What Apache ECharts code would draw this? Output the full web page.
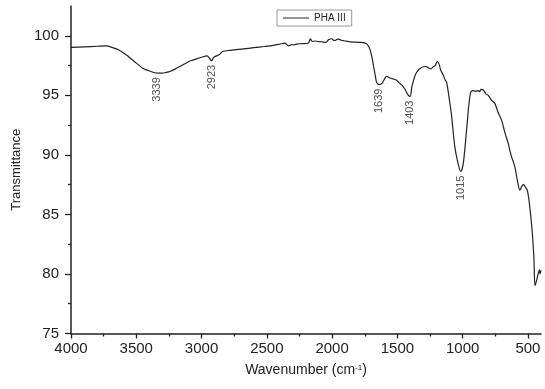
<!DOCTYPE html>
<html>
<head>
<meta charset="utf-8">
<script src="https://cdn.jsdelivr.net/npm/echarts@6/dist/echarts.min.js"></script>
<style>
html,body{margin:0;padding:0;background:#fff;}
#c{width:545px;height:389px;}
</style>
</head>
<body>
<div id="c"></div>
<script>
// Wavenumber (cm-1) and transmittance
var wavenumbers = [4000,3900,3800,3730,3680,3637,3580,3531,3490,3451,3410,3371,3339,3305,3270,3238,3200,3159,3120,3079,3040,2999,2959,2945,2923,2906,2866,2839,2780,2679,2600,2520,2450,2387,2361,2345,2334,2310,2294,2270,2253,2201,2180,2167,2158,2148,2130,2108,2080,2055,2040,2028,2002,1988,1975,1962,1949,1930,1909,1855,1776,1736,1720,1709,1695,1682,1670,1661,1650,1639,1625,1615,1600,1583,1565,1549,1509,1482,1460,1442,1425,1403,1389,1375,1363,1345,1323,1300,1283,1260,1243,1225,1210,1195,1180,1168,1149,1135,1123,1100,1085,1060,1035,1015,995,970,945,926,900,881,870,860,842,820,804,780,753,730,702,680,651,630,600,580,562,545,535,520,505,490,470,455,446,435,425,418,412,407,400];
var transmittance = [99.02,99.07,99.12,99.16,99.0,98.82,98.42,97.98,97.62,97.28,97.08,96.94,96.86,96.86,96.92,97.02,97.22,97.47,97.7,97.92,98.06,98.2,98.31,98.2,97.9,98.2,98.4,98.68,98.78,98.9,99.0,99.1,99.2,99.33,99.38,99.22,99.16,99.25,99.24,99.3,99.33,99.35,99.4,99.75,99.6,99.52,99.56,99.52,99.5,99.44,99.5,99.66,99.75,99.62,99.61,99.7,99.72,99.62,99.58,99.49,99.44,99.33,99.1,98.82,98.2,97.42,96.7,96.15,95.95,95.9,95.95,96.05,96.35,96.6,96.5,96.43,96.29,96.0,95.8,95.51,95.15,94.9,95.73,96.3,96.71,97.05,97.28,97.4,97.42,97.3,97.22,97.4,97.5,97.84,97.6,97.1,96.71,96.3,96.1,94.5,93.3,90.67,89.28,88.6,89.3,92.1,94.9,95.39,95.35,95.4,95.3,95.5,95.45,95.1,95.0,94.6,94.3,93.6,92.92,92.0,90.96,90.0,88.99,87.8,87.03,87.4,87.53,87.3,87.03,86.0,83.9,81.5,79.02,79.4,79.87,80.15,80.35,80.0,80.3];
// annotated peaks
var peakWavenumbers = [3339, 2923, 1639, 1403, 1015];
var peakValues = [96.86, 97.9, 95.9, 94.9, 88.6];
// axis tick labels
var xTickLabels = [4000, 3500, 3000, 2500, 2000, 1500, 1000, 500];
var xMinorTicks = [3750, 3250, 2750, 2250, 1750, 1250, 750];
var yTickLabels = [75, 80, 85, 90, 95, 100];
var yMinorTicks = [77.5, 82.5, 87.5, 92.5, 97.5];
var seriesName = 'PHA III';

var lineData = wavenumbers.map(function (w, i) { return [w, transmittance[i]]; });
var peakData = peakWavenumbers.map(function (w, i) { return [w, peakValues[i]]; });

var FONT = '"Liberation Sans", Arial, sans-serif';
var AX = '#222';

var chart = echarts.init(document.getElementById('c'), null, {renderer: 'canvas'});
chart.setOption({
  animation: false,
  backgroundColor: '#fff',
  textStyle: {fontFamily: FONT},
  grid: {left: 71, right: 4, top: 6, bottom: 55.5},
  legend: {
    data: [{name: seriesName, icon: 'rect'}],
    left: 277, top: 10,
    padding: [3, 6],
    itemWidth: 26, itemHeight: 1,
    borderColor: '#999', borderWidth: 1,
    itemStyle: {color: '#2a2a2a', borderWidth: 0},
    lineStyle: {width: 1},
    textStyle: {fontFamily: FONT, fontSize: 10, color: '#222'}
  },
  xAxis: [{
    type: 'value', inverse: true, min: 400, max: 4000,
    name: 'Wavenumber (cm{sup|-1})', nameLocation: 'middle', nameGap: 30,
    nameTextStyle: {fontFamily: FONT, fontSize: 14, color: '#222',
      rich: {sup: {fontSize: 8, verticalAlign: 'top', padding: [0,0,6,0], fontFamily: FONT, color: '#222'}}},
    axisLine: {show: true, onZero: false, lineStyle: {color: AX, width: 1.5}},
    axisTick: {show: true, inside: false, length: 5, customValues: xTickLabels, lineStyle: {color: AX, width: 1.3}},
    axisLabel: {customValues: xTickLabels, margin: 8, fontSize: 15, color: '#222', fontFamily: FONT,
      formatter: function (v) { return String(v); }},
    splitLine: {show: false}
  }, {
    type: 'value', inverse: true, min: 400, max: 4000, position: 'bottom',
    axisLine: {show: false},
    axisTick: {show: true, inside: false, length: 3, customValues: xMinorTicks, lineStyle: {color: AX, width: 1.3}},
    axisLabel: {show: false},
    splitLine: {show: false}
  }],
  yAxis: [{
    type: 'value', min: 75, max: 102.5,
    name: 'Transmittance', nameLocation: 'middle', nameGap: 43,
    nameTextStyle: {fontFamily: FONT, fontSize: 13, color: '#222'},
    axisLine: {show: true, onZero: false, lineStyle: {color: AX, width: 1.5}},
    axisTick: {show: true, inside: false, length: 6, customValues: yTickLabels, lineStyle: {color: AX, width: 1.3}},
    axisLabel: {customValues: yTickLabels, margin: 12, fontSize: 15, color: '#222', fontFamily: FONT,
      formatter: function (v) { return String(v); }},
    splitLine: {show: false}
  }, {
    type: 'value', min: 75, max: 102.5, position: 'left',
    axisLine: {show: false},
    axisTick: {show: true, inside: false, length: 3, customValues: yMinorTicks, lineStyle: {color: AX, width: 1.3}},
    axisLabel: {show: false},
    splitLine: {show: false}
  }],
  series: [{
    name: seriesName,
    type: 'line',
    data: lineData,
    showSymbol: false, symbol: 'none',
    smooth: 0.3,
    lineStyle: {color: '#222', width: 1.2},
    itemStyle: {color: '#222'}
  }, {
    name: 'peaks',
    type: 'scatter',
    data: peakData,
    symbolSize: 0,
    silent: true,
    label: {
      show: true,
      position: 'bottom',
      distance: 4,
      rotate: 90,
      align: 'right',
      verticalAlign: 'middle',
      fontSize: 11,
      fontFamily: FONT,
      color: '#222',
      formatter: function (p) { return String(p.value[0]); }
    }
  }]
});
</script>
</body>
</html>
